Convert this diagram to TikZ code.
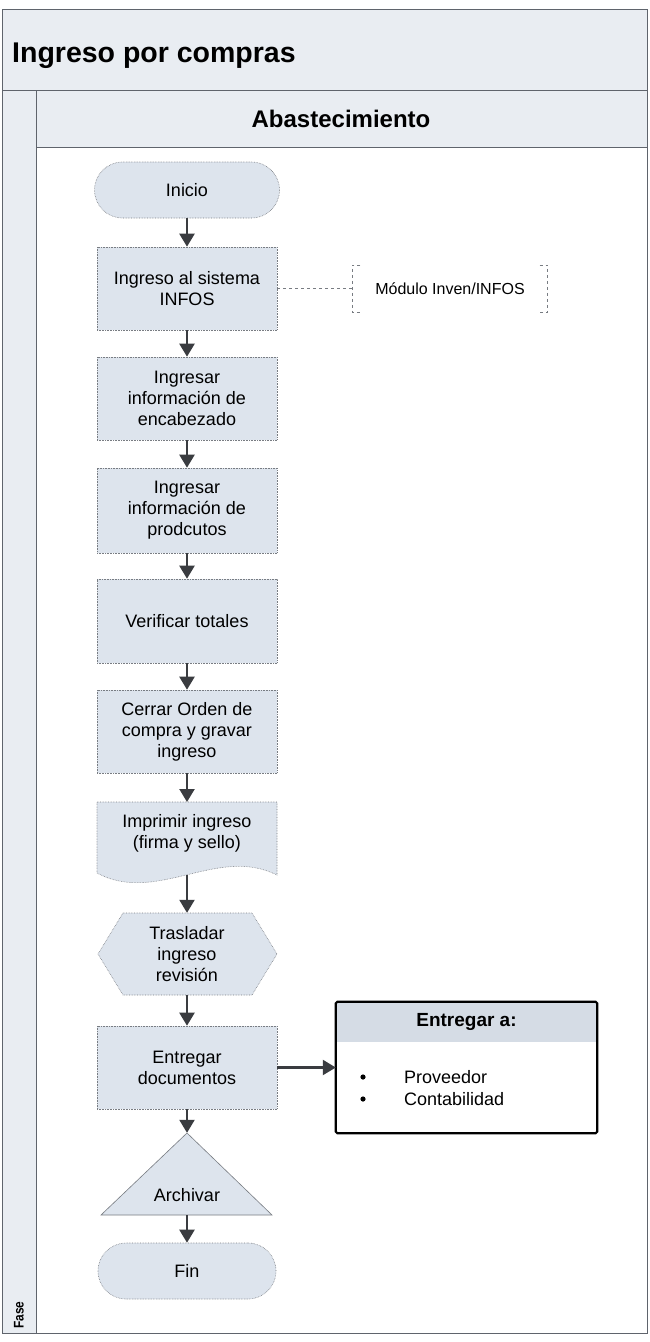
\documentclass[tikz,border=0pt]{standalone}
\usepackage{fontspec}
\setmainfont{Liberation Sans}
\usetikzlibrary{arrows.meta}

\definecolor{bandfill}{RGB}{233,237,242}
\definecolor{nodefill}{RGB}{221,228,237}
\definecolor{headfill}{RGB}{213,220,229}
\definecolor{framecol}{RGB}{95,100,108}
\definecolor{arrowcol}{RGB}{58,60,64}
\definecolor{edgecol}{RGB}{120,124,130}

\tikzset{
  proc/.style={draw=edgecol, densely dotted, line width=0.6pt, fill=nodefill,
    minimum width=180pt, minimum height=83pt, align=center, inner sep=2pt,
    font=\fontsize{18}{21}\selectfont},
  term/.style={proc, minimum width=185pt, minimum height=56pt, rounded corners=28pt},
  txt/.style={font=\fontsize{18}{21}\selectfont, align=center, inner sep=0pt},
  shapeline/.style={draw=edgecol, densely dotted, line width=0.6pt, fill=nodefill},
  flow/.style={draw=arrowcol, line width=2.2pt, -{Triangle[length=13pt,width=15pt]}},
  bracketline/.style={draw=edgecol, dashed, line width=0.6pt},
  band/.style={draw=framecol, line width=1pt, fill=bandfill}
}

\begin{document}
\begin{tikzpicture}[x=1pt,y=-1pt]
\useasboundingbox (0,0) rectangle (649,1342);
\fill[white] (0,0) rectangle (649,1342);

% swimlane frame
\draw[band] (2.5,9) rectangle (647,90);
\draw[band] (2.5,90) rectangle (36,1333);
\draw[band] (36,90) rectangle (647,147);
\draw[draw=framecol, line width=1pt] (36,147) rectangle (647,1333);
\node[anchor=base west, inner sep=0pt, font=\bfseries\fontsize{28.5}{31}\selectfont] (title) at (12,62) {Ingreso por compras};
\node[anchor=base, inner sep=0pt, font=\bfseries\fontsize{24}{26}\selectfont] (lane) at (341,127) {Abastecimiento};
\node[rotate=90, inner sep=0pt, font=\bfseries\fontsize{14}{15}\selectfont] (fase) at (19,1315) {\scalebox{0.85}[1]{Fase}};

% flow steps
\node[term] (ini) at (187,190) {Inicio};
\node[proc] (sis) at (187,288.5) {Ingreso al sistema\\INFOS};
\node[proc] (enc) at (187,398.5) {Ingresar\\información de\\encabezado};
\node[proc, minimum height=85pt] (pro) at (187,510.5) {Ingresar\\información de\\prodcutos};
\node[proc, minimum height=84pt] (ver) at (187,621) {Verificar totales};
\node[proc] (cer) at (187,731.5) {Cerrar Orden de\\compra y gravar\\ingreso};

% document shape
\draw[shapeline] (97,802) -- (277,802) -- (277,875)
  .. controls (217,845) and (157,905) .. (97,873) -- cycle;
\node[txt] (imp) at (187,833) {Imprimir ingreso\\(firma y sello)};
\coordinate (impb) at (187,875);

% preparation (hexagon)
\draw[shapeline] (123,913) -- (252,913) -- (277,954) -- (252,995) -- (123,995) -- (98,954) -- cycle;
\node[txt, minimum width=179pt, minimum height=82pt] (tra) at (187,954) {Trasladar\\ingreso\\revisión};

\node[proc] (ent) at (187,1067.5) {Entregar\\documentos};

% archive (triangle)
\draw[draw=edgecol, line width=0.6pt, fill=nodefill] (187,1133) -- (272,1215) -- (101,1215) -- cycle;
\node[minimum width=171pt, minimum height=82pt, inner sep=0pt] (arc) at (187,1174) {};
\node[txt] (arct) at (187,1195) {Archivar};

\node[term, minimum width=178pt] (fin) at (187,1271) {Fin};

% annotation
\node[minimum width=195pt, minimum height=47pt, inner sep=0pt, font=\fontsize{16}{18}\selectfont] (mod) at (450,288.5) {Módulo Inven/INFOS};
\draw[bracketline] ([xshift=8pt]mod.north west) -- (mod.north west) -- (mod.south west) -- ([xshift=8pt]mod.south west);
\draw[bracketline] ([xshift=-8pt]mod.north east) -- (mod.north east) -- (mod.south east) -- ([xshift=-8pt]mod.south east);
\draw[bracketline] (sis.east) -- (mod.west);

% delivery list
\node[minimum width=261pt, minimum height=131pt, inner sep=0pt] (lst) at (466.5,1067.5) {};
\fill[headfill] (lst.north west) rectangle ([yshift=-40pt]lst.north east);
\draw[black, line width=2.2pt, rounded corners=1.5pt] (lst.north west) rectangle (lst.south east);
\node[inner sep=0pt, font=\bfseries\fontsize{19}{21}\selectfont] (lsth) at (466.5,1022) {Entregar a:};
\fill[black] (363,1077) circle (2.6pt);
\fill[black] (363,1099) circle (2.6pt);
\node[anchor=west, inner sep=0pt, font=\fontsize{18}{21}\selectfont] (prov) at (404,1077) {Proveedor};
\node[anchor=west, inner sep=0pt, font=\fontsize{18}{21}\selectfont] (cont) at (404,1099) {Contabilidad};

% connectors
\draw[flow] (ini.south) -- (sis.north);
\draw[flow] (sis.south) -- (enc.north);
\draw[flow] (enc.south) -- (pro.north);
\draw[flow] (pro.south) -- (ver.north);
\draw[flow] (ver.south) -- (cer.north);
\draw[flow] (cer.south) -- (187,802);
\draw[flow] (impb) -- (tra.north);
\draw[flow] (tra.south) -- (ent.north);
\draw[flow] (ent.east) -- (lst.west);
\draw[flow] (ent.south) -- (arc.north);
\draw[flow] (arc.south) -- (fin.north);
\end{tikzpicture}
\end{document}
